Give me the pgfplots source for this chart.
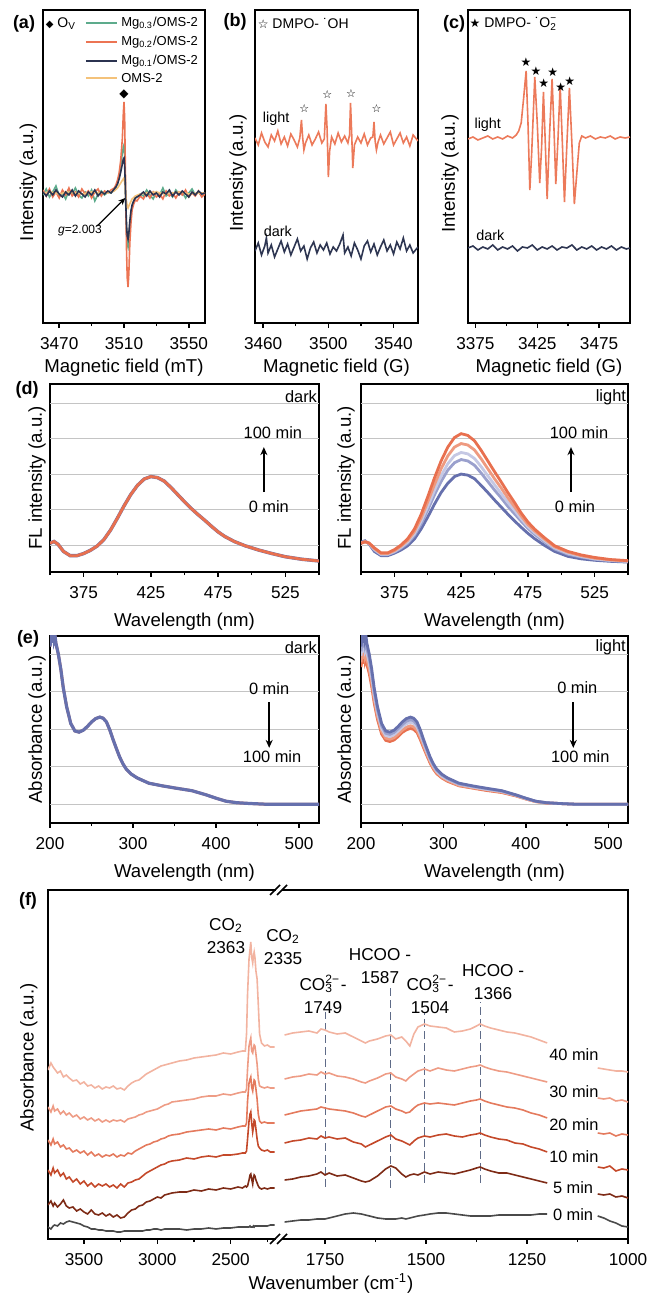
\documentclass[border=0pt]{standalone}
\usepackage{pgfplots}
\pgfplotsset{compat=1.18}
\usepackage{pgfplotstable}
\usepackage{fontspec}
\setmainfont{Liberation Sans}
\newfontfamily\dejavu{DejaVu Sans}
\usetikzlibrary{arrows.meta}
\definecolor{cgreen}{HTML}{5DAB8C}
\definecolor{corange}{HTML}{EC7453}
\definecolor{cnavy}{HTML}{2B3350}
\definecolor{cyellow}{HTML}{F4C27A}
\definecolor{clight}{HTML}{EC7A5A}
\definecolor{cdark}{HTML}{2E3652}
\definecolor{dblue}{HTML}{6670AD}
\definecolor{dmid}{HTML}{9AA0CD}
\definecolor{dpale}{HTML}{C5C8E4}
\definecolor{dsalmon}{HTML}{EE9A80}
\definecolor{dorange}{HTML}{E8704F}
\definecolor{f40}{HTML}{F2B3A0}
\definecolor{f30}{HTML}{EE9C85}
\definecolor{f20}{HTML}{E47A5D}
\definecolor{f10}{HTML}{C4492A}
\definecolor{f5}{HTML}{7E2B16}
\definecolor{f0}{HTML}{4A4A4A}
\definecolor{fdash}{HTML}{5F6B88}
\definecolor{gridc}{HTML}{C4C4C4}
\newcommand\fsTick{\fontsize{8.6}{10}\selectfont}
\newcommand\fsLab{\fontsize{9.3}{11}\selectfont}
\newcommand\fsAnn{\fontsize{8.2}{10}\selectfont}
\newcommand\fsSm{\fontsize{7.2}{8.5}\selectfont}
\newcommand\fsLeg{\fontsize{6.5}{7.5}\selectfont}
\newcommand\fsF{\fontsize{8.6}{11.2}\selectfont}
\newcommand\fsP{\bfseries\fontsize{9}{10}\selectfont}
\tikzset{
 lwa/.style={line width=0.8pt},
 lwb/.style={line width=1.4pt},
 farr/.style={line width=0.8pt,-{Stealth[length=4pt,width=3.5pt]}},
 fdl/.style={fdash,line width=0.6pt,dash pattern=on 4pt off 2pt},
 legt/.style={font=\fsLeg,anchor=west,inner sep=0pt},
}
\pgfplotsset{
 base/.style={scale only axis, anchor=south west,
  axis line style={line width=0.9pt},
  tick style={black, line width=0.7pt},
  tick align=outside, major tick length=2.5pt, minor tick length=1.6pt,
  xtick pos=left, ytick=\empty, minor x tick num=1,
  tick label style={font=\fsTick},
  xticklabel style={yshift=-1.2pt},
  xlabel style={font=\fsLab}, ylabel style={font=\fsLab},
  /pgf/number format/assume math mode=true,
  /pgf/number format/1000 sep={},
  clip mode=individual},
}
\begin{document}
\pgfplotstableread{
w c1 c2 c3 c4 c5
350 1.08 1.06 1.06 1.05 1.05
353 1.12 1.10 1.10 1.09 1.09
356 1.03 1.04 1.05 1.05 1.06
360 0.82 0.86 0.88 0.90 0.92
365 0.70 0.73 0.74 0.76 0.78
370 0.70 0.73 0.74 0.76 0.78
375 0.77 0.80 0.82 0.84 0.87
380 0.86 0.91 0.94 0.97 1.00
385 0.98 1.05 1.09 1.13 1.18
390 1.17 1.27 1.32 1.38 1.45
395 1.45 1.59 1.67 1.76 1.86
400 1.79 1.99 2.09 2.22 2.36
405 2.15 2.41 2.54 2.70 2.89
410 2.48 2.79 2.95 3.15 3.37
415 2.74 3.11 3.29 3.51 3.76
420 2.93 3.32 3.52 3.76 4.03
425 3.00 3.41 3.61 3.86 4.14
430 2.97 3.37 3.57 3.82 4.09
435 2.87 3.25 3.44 3.68 3.94
440 2.68 3.03 3.21 3.43 3.67
445 2.48 2.79 2.95 3.15 3.37
450 2.27 2.55 2.70 2.87 3.07
455 2.07 2.33 2.45 2.61 2.78
460 1.87 2.09 2.20 2.33 2.48
465 1.68 1.88 1.98 2.08 2.20
470 1.50 1.67 1.74 1.82 1.90
475 1.33 1.47 1.52 1.58 1.65
480 1.18 1.30 1.35 1.40 1.45
487 1.00 1.10 1.14 1.18 1.22
495 0.82 0.89 0.92 0.95 0.98
505 0.68 0.74 0.77 0.80 0.82
515 0.61 0.66 0.68 0.70 0.72
525 0.57 0.60 0.61 0.63 0.65
537 0.54 0.56 0.57 0.58 0.59
550 0.52 0.53 0.54 0.55 0.56
}\fltab
\pgfplotstableread{
w d
350 1.05
353 1.10
356 1.02
360 0.82
365 0.70
370 0.70
375 0.76
380 0.85
385 0.97
390 1.15
395 1.42
400 1.75
405 2.10
410 2.42
415 2.68
420 2.86
425 2.93
430 2.90
435 2.80
440 2.62
445 2.42
450 2.22
455 2.03
460 1.86
465 1.70
470 1.53
475 1.37
480 1.24
487 1.10
495 0.98
505 0.86
515 0.76
525 0.67
537 0.60
550 0.55
}\fldark
\pgfplotstableread{
w c1 c2 c3 c4 c5
200 5.20 5.07 4.95 4.78 4.65
202 5.60 5.46 5.32 5.14 5.00
203 5.30 5.17 5.04 4.87 4.74
204 5.70 5.56 5.42 5.23 5.09
205 5.40 5.27 5.14 4.96 4.83
206 5.50 5.37 5.23 5.05 4.92
207 5.30 5.17 5.04 4.87 4.74
208 5.20 5.07 4.95 4.78 4.65
210 5.00 4.88 4.76 4.60 4.48
213 4.60 4.49 4.38 4.24 4.13
216 4.10 4.01 3.91 3.79 3.70
220 3.60 3.52 3.44 3.34 3.26
225 3.15 3.09 3.02 2.94 2.87
230 2.95 2.89 2.83 2.76 2.70
235 2.92 2.86 2.80 2.73 2.67
240 2.97 2.91 2.85 2.77 2.71
245 3.07 3.01 2.95 2.86 2.80
250 3.19 3.12 3.06 2.97 2.91
255 3.28 3.21 3.14 3.05 2.98
260 3.32 3.25 3.18 3.09 3.02
264 3.29 3.22 3.15 3.06 2.99
268 3.19 3.12 3.06 2.97 2.91
272 2.98 2.92 2.86 2.78 2.72
276 2.72 2.67 2.62 2.55 2.50
280 2.48 2.44 2.39 2.33 2.29
284 2.25 2.21 2.18 2.13 2.09
288 2.07 2.04 2.01 1.96 1.93
292 1.93 1.90 1.87 1.84 1.81
298 1.80 1.78 1.75 1.72 1.70
305 1.70 1.68 1.66 1.63 1.61
319 1.56 1.54 1.53 1.50 1.49
335 1.49 1.48 1.46 1.44 1.43
351 1.43 1.42 1.40 1.39 1.37
371 1.36 1.35 1.34 1.32 1.31
388 1.25 1.24 1.24 1.23 1.22
400 1.16 1.16 1.15 1.14 1.14
412 1.08 1.08 1.08 1.07 1.07
425 1.04 1.04 1.04 1.04 1.03
440 1.02 1.02 1.02 1.02 1.02
460 1.00 1.00 1.00 1.00 1.00
490 1.00 1.00 1.00 1.00 1.00
525 1.00 1.00 1.00 1.00 1.00
}\abtab
\pgfplotstableread{
x t0 t5 t10 t20 t30 t40
3745 1.2 3.4 6.9 9.9 13.2 16.9
3725 1.0 3.8 6.4 9.4 12.7 17.6
3710 1.3 3.3 7.1 10.0 13.3 17.2
3700 1.4 3.6 6.6 9.5 12.8 17.0
3680 1.3 3.2 6.9 9.7 13.0 16.6
3660 1.6 3.5 6.3 9.2 12.5 16.8
3640 1.5 3.9 6.6 9.4 12.8 16.2
3620 1.7 3.3 6.0 9.0 12.4 16.4
3600 1.8 3.1 6.2 9.1 12.6 16.1
3575 1.7 3.2 5.7 8.7 12.2 15.8
3550 1.6 2.8 6.0 8.9 12.4 15.9
3525 1.5 3.0 5.5 8.6 12.0 15.5
3500 1.3 2.7 5.8 8.8 12.2 15.7
3475 1.2 2.5 5.3 8.4 11.9 15.3
3450 1.0 2.9 5.6 8.7 12.1 15.4
3425 1.0 2.5 5.2 8.3 11.8 15.1
3400 0.9 2.4 5.5 8.5 12.0 15.3
3375 0.9 2.6 5.3 8.2 11.7 15.0
3350 0.8 2.3 5.5 8.4 11.9 15.2
3325 0.8 2.5 5.2 8.3 11.7 15.1
3300 0.8 2.2 5.4 8.5 11.9 15.3
3275 0.7 2.4 5.1 8.2 11.8 15.0
3250 0.7 2.1 5.5 8.4 11.9 15.1
3225 0.8 2.2 5.2 8.3 11.7 14.9
3200 0.8 2.6 5.6 8.6 12.0 15.3
3175 0.8 2.9 5.7 8.5 12.1 15.6
3150 0.8 3.0 5.9 8.8 12.2 15.8
3125 0.8 3.3 6.0 9.0 12.4 15.9
3100 0.8 3.4 6.3 9.2 12.5 16.2
3075 0.9 3.7 6.6 9.4 12.7 16.5
3050 0.9 3.8 6.8 9.5 12.8 16.7
3025 1.0 4.0 7.0 9.7 12.9 16.9
3000 1.0 4.2 7.2 9.8 13.0 17.1
2975 0.9 4.1 7.4 10.0 13.2 17.3
2950 1.0 4.4 7.5 10.1 13.4 17.4
2925 1.0 4.5 7.7 10.3 13.5 17.5
2900 1.0 4.6 7.8 10.4 13.7 17.6
2850 1.0 4.7 7.9 10.5 13.8 17.8
2800 0.9 4.7 8.1 10.7 13.9 17.9
2750 1.0 4.9 8.0 10.8 14.0 18.1
2700 1.0 4.8 8.2 10.9 14.2 18.2
2650 1.1 5.0 8.3 11.0 14.3 18.3
2600 1.0 4.9 8.2 10.9 14.3 18.4
2550 1.1 5.1 8.4 11.1 14.5 18.6
2500 1.1 5.0 8.4 11.0 14.4 18.5
2450 1.2 5.2 8.5 11.2 14.6 18.7
2420 1.2 5.1 8.6 11.3 14.7 18.8
2400 1.2 5.3 8.6 11.3 14.7 18.8
2392 1.2 5.2 8.8 11.6 15.0 20.5
2385 1.2 5.3 10.0 13.8 17.0 24.5
2375 1.2 5.9 11.8 15.6 19.3 28.0
2368 1.3 6.4 12.5 16.0 19.8 29.0
2363 1.2 6.5 12.7 16.2 20.1 29.7
2357 1.2 6.0 11.6 15.2 18.8 28.2
2350 1.2 5.5 10.7 14.8 18.6 27.6
2345 1.3 6.1 11.2 15.4 19.1 28.3
2340 1.2 6.4 11.9 15.9 19.4 28.7
2335 1.3 6.3 11.8 15.8 19.3 28.2
2328 1.3 5.9 11.0 15.0 18.5 26.8
2320 1.3 5.6 10.0 14.0 17.5 26.0
2312 1.3 5.3 9.3 12.5 16.0 23.5
2303 1.3 5.1 9.1 11.8 15.3 20.5
2290 1.3 5.0 8.9 11.6 15.2 19.6
2270 1.3 5.1 8.8 11.7 15.1 19.3
2250 1.3 5.0 8.9 11.6 15.2 19.4
2230 1.4 5.1 8.7 11.6 15.1 19.2
2200 1.4 5.1 8.7 11.6 15.1 19.2
}\ftabA
\pgfplotstableread{
x t0 t5 t10 t20 t30 t40
1850 1.7 5.9 9.6 12.4 16.0 20.4
1830 1.8 6.0 9.8 12.6 16.2 20.6
1810 1.9 6.2 9.9 12.8 16.3 20.7
1790 1.9 6.3 10.1 12.9 16.5 20.8
1770 2.0 6.5 10.0 13.0 16.4 20.6
1760 2.0 6.7 10.3 13.2 16.7 21.0
1750 2.0 6.4 10.1 13.1 16.5 20.9
1740 2.1 6.6 10.2 13.0 16.6 20.7
1720 2.3 6.3 10.0 12.9 16.3 20.5
1700 2.5 6.4 10.1 12.8 16.2 20.6
1680 2.6 6.1 9.7 12.6 16.0 20.2
1660 2.5 5.8 9.5 12.3 15.7 19.8
1650 2.4 5.7 9.2 12.2 15.6 19.6
1640 2.3 5.8 9.4 12.4 15.8 19.8
1620 2.1 6.3 9.8 12.8 16.1 20.0
1600 2.0 7.0 10.2 13.2 16.5 20.3
1587 2.0 7.3 10.4 13.3 16.6 20.4
1575 2.0 7.1 10.0 13.0 16.2 20.0
1560 2.1 6.5 9.8 12.8 16.0 20.2
1550 2.0 6.2 9.6 12.6 15.8 19.8
1540 2.1 6.4 9.4 12.7 16.2 19.3
1530 2.2 6.5 9.8 13.1 16.5 20.5
1520 2.3 6.4 10.1 13.4 16.8 21.2
1504 2.4 6.7 10.3 13.6 17.0 21.5
1490 2.5 6.5 10.2 13.5 16.8 21.3
1470 2.6 6.7 10.4 13.6 17.1 21.2
1450 2.6 6.6 10.5 13.5 16.9 21.1
1430 2.5 6.5 10.3 13.4 16.8 20.7
1410 2.4 6.7 10.2 13.6 17.0 20.8
1390 2.3 6.9 10.4 13.8 17.2 21.0
1375 2.3 7.1 10.5 13.9 17.3 21.3
1366 2.3 7.2 10.6 14.0 17.4 21.5
1355 2.3 7.0 10.4 13.8 17.2 21.3
1340 2.3 6.8 10.2 13.6 17.0 21.1
1320 2.4 6.6 10.0 13.4 16.8 20.9
1300 2.4 6.6 9.9 13.2 16.7 20.7
1280 2.4 6.4 9.6 13.1 16.5 20.6
1260 2.4 6.2 9.5 12.9 16.3 20.4
1240 2.4 6.0 9.2 12.6 16.1 20.2
1220 2.5 5.8 9.0 12.4 15.9 19.9
1200 2.5 5.6 8.7 12.1 15.7 19.6
}\ftabB
\pgfplotstableread{
x t0 t5 t10 t20 t30 t40
1075 2.3 4.5 7.2 10.6 14.1 17.1
1060 2.1 4.4 7.1 10.5 14.0 17.0
1045 1.8 4.5 7.3 10.6 14.1 16.9
1030 1.6 4.2 6.8 10.3 13.8 16.8
1015 1.3 4.3 7.0 10.5 13.9 16.8
1000 1.2 4.1 6.9 10.4 13.7 16.7
}\ftabC
\begin{tikzpicture}
\useasboundingbox (0,0) rectangle (324.5pt,647pt);
% ---------------- (a)
\begin{axis}[base, at={(21.5pt,485.5pt)}, width=81pt, height=156.5pt,
 xmin=3460, xmax=3560, ymin=0, ymax=313, xtick={3470,3510,3550},
 xlabel={Magnetic field (mT)}, ylabel={Intensity (a.u.)},
 xlabel style={at={(axis description cs:0.5,-0.143)},anchor=center},
 ylabel style={at={(axis description cs:-0.091,0.45)},anchor=center}]
\addplot[cgreen,lwa] coordinates {(3460,128)(3462,134)(3464,126)(3466,131)(3468,137)(3470,127)(3472,130)(3474,124)(3476,132)(3478,129)(3480,135)(3482,128)(3484,125)(3486,131)(3488,127)(3490,133)(3492,122)(3494,129)(3496,132)(3498,128)(3500,131)(3502,130)(3504,133)(3505,136)(3506,140)(3507,147)(3508,158)(3509,170)(3509.6,176)(3510,178)(3510.4,168)(3510.8,140)(3511.2,110)(3511.6,90)(3512,79)(3512.5,76)(3513,84)(3513.6,98)(3514.3,110)(3515,117)(3516,122)(3517,125)(3518,126)(3520,129)(3522,127)(3524,133)(3526,128)(3528,124)(3530,131)(3532,128)(3534,135)(3536,127)(3538,130)(3540,126)(3542,133)(3544,129)(3546,131)(3548,125)(3550,130)(3552,134)(3554,128)(3556,131)(3558,127)(3560,130)};
\addplot[corange,lwa] coordinates {(3460,133)(3462,127)(3464,134)(3466,126)(3468,131)(3470,125)(3472,133)(3474,128)(3476,135)(3478,127)(3480,131)(3482,126)(3484,134)(3486,129)(3488,132)(3490,125)(3492,131)(3494,134)(3496,127)(3498,132)(3500,130)(3502,133)(3504,135)(3505,138)(3506,143)(3507,150)(3508,163)(3509,185)(3509.6,210)(3510,221)(3510.4,205)(3510.8,160)(3511.2,110)(3511.6,70)(3512,45)(3512.5,36)(3513,50)(3513.6,80)(3514.3,100)(3515,113)(3516,119)(3517,123)(3518,122)(3520,127)(3522,124)(3524,130)(3526,125)(3528,131)(3530,126)(3532,129)(3534,124)(3536,132)(3538,127)(3540,130)(3542,125)(3544,131)(3546,128)(3548,133)(3550,126)(3552,130)(3554,127)(3556,132)(3558,126)(3560,129)};
\addplot[cyellow,lwa] coordinates {(3460,130)(3465,131)(3470,129)(3475,131)(3480,130)(3485,129)(3490,131)(3495,130)(3500,130)(3504,132)(3506,135)(3508,140)(3509.5,144)(3510,145)(3510.6,138)(3511.2,125)(3512,117)(3512.5,115)(3513.5,119)(3515,124)(3517,127)(3520,129)(3525,130)(3530,131)(3535,129)(3540,130)(3545,131)(3550,129)(3555,130)(3560,130)};
\addplot[cnavy,lwa] coordinates {(3460,131)(3462,127)(3464,132)(3466,128)(3468,133)(3470,129)(3472,126)(3474,131)(3476,128)(3478,133)(3480,127)(3482,132)(3484,129)(3486,126)(3488,131)(3490,128)(3492,133)(3494,127)(3496,131)(3498,129)(3500,132)(3502,130)(3504,134)(3505,136)(3506,139)(3507,144)(3508,151)(3509,159)(3509.6,164)(3510,165)(3510.4,158)(3510.8,138)(3511.2,115)(3511.6,97)(3512,87)(3512.5,84)(3513,90)(3513.6,102)(3514.3,112)(3515,118)(3516,122)(3517,125)(3518,126)(3520,128)(3522,131)(3524,127)(3526,132)(3528,128)(3530,130)(3532,126)(3534,131)(3536,129)(3538,133)(3540,127)(3542,131)(3544,128)(3546,132)(3548,129)(3550,126)(3552,131)(3554,128)(3556,132)(3558,129)(3560,130)};
% legend
\draw[cgreen,line width=1pt] (axis description cs:0.265,0.958) -- (axis description cs:0.457,0.958);
\draw[corange,line width=1pt] (axis description cs:0.265,0.898) -- (axis description cs:0.457,0.898);
\draw[cnavy,line width=1pt] (axis description cs:0.265,0.837) -- (axis description cs:0.457,0.837);
\draw[cyellow,line width=1pt] (axis description cs:0.265,0.783) -- (axis description cs:0.457,0.783);
\node[legt] at (axis description cs:0.481,0.958) {Mg\textsubscript{0.3}/OMS-2};
\node[legt] at (axis description cs:0.481,0.898) {Mg\textsubscript{0.2}/OMS-2};
\node[legt] at (axis description cs:0.481,0.837) {Mg\textsubscript{0.1}/OMS-2};
\node[legt] at (axis description cs:0.481,0.783) {OMS-2};
\node[font=\fontsize{7}{8}\selectfont,anchor=west,inner sep=0pt] at (axis cs:3461.5,299) {{\dejavu\fontsize{5}{6}\selectfont ◆} O\textsubscript{V}};
\node[font=\dejavu\fontsize{6}{7}\selectfont] at (axis cs:3510,229) {◆};
\node[font=\fontsize{6}{7}\selectfont] at (axis cs:3482.8,92) {\textit{g}=2.003};
\draw[line width=0.6pt,-{Stealth[length=3.5pt,width=3pt]}] (axis cs:3493.5,97) -- (axis cs:3510.8,125);
\end{axis}
% ---------------- (b)
\begin{axis}[base, at={(127.5pt,485.5pt)}, width=81.5pt, height=156.5pt,
 xmin=3455, xmax=3555, ymin=0, ymax=313, xtick={3460,3500,3540},
 xlabel={Magnetic field (G)}, ylabel={Intensity (a.u.)},
 xlabel style={at={(axis description cs:0.5,-0.143)},anchor=center},
 ylabel style={at={(axis description cs:-0.104,0.48)},anchor=center}]
\addplot[clight,lwa] coordinates {(3455,185)(3457,178)(3459,190)(3461,181)(3463,176)(3465,188)(3467,182)(3469,192)(3471,179)(3473,186)(3475,177)(3477,189)(3479,183)(3481,176)(3482.5,185)(3483.5,203)(3484.2,186)(3485,173)(3486,180)(3488,188)(3490,178)(3492,184)(3494,191)(3496,180)(3497.5,184)(3498.5,219)(3499.2,195)(3500,146)(3500.8,172)(3502,186)(3504,179)(3506,190)(3508,181)(3510,187)(3512,180)(3513,188)(3513.6,220)(3514.3,190)(3515,155)(3516,178)(3518,186)(3520,180)(3522,189)(3524,178)(3526,185)(3527.3,186)(3528,201)(3528.7,182)(3529.5,173)(3530.5,181)(3532,188)(3534,179)(3536,185)(3538,191)(3540,178)(3542,184)(3544,190)(3546,180)(3548,186)(3550,177)(3552,188)(3555,182)};
\addplot[cdark,lwa] coordinates {(3455,72)(3457,80)(3459,68)(3461,77)(3462,85)(3463,70)(3465,78)(3467,66)(3469,74)(3471,82)(3473,71)(3475,79)(3477,68)(3479,76)(3481,84)(3483,72)(3485,77)(3487,64)(3489,75)(3491,81)(3493,70)(3495,78)(3497,73)(3499,80)(3501,69)(3503,76)(3505,72)(3507,79)(3509,88)(3510,70)(3512,76)(3514,67)(3516,80)(3518,73)(3520,64)(3522,77)(3524,82)(3526,71)(3528,79)(3530,68)(3532,76)(3534,83)(3536,72)(3538,78)(3540,69)(3542,81)(3544,74)(3546,85)(3548,72)(3550,78)(3552,70)(3555,76)};
\node[font=\fontsize{7}{8}\selectfont,anchor=west,inner sep=0pt] at (axis cs:3456.5,299) {{\dejavu\fontsize{6}{7}\selectfont ☆} DMPO- ˙OH};
\node[font=\fsSm] at (axis cs:3468,204) {light};
\node[font=\fsSm] at (axis cs:3469,92) {dark};
\node[font=\dejavu\fontsize{5.5}{6}\selectfont] at (axis cs:3485.2,214) {☆};
\node[font=\dejavu\fontsize{5.5}{6}\selectfont] at (axis cs:3499.3,228) {☆};
\node[font=\dejavu\fontsize{5.5}{6}\selectfont] at (axis cs:3514,229) {☆};
\node[font=\dejavu\fontsize{5.5}{6}\selectfont] at (axis cs:3529.5,214) {☆};
\end{axis}
% ---------------- (c)
\begin{axis}[base, at={(234pt,485.5pt)}, width=81pt, height=156.5pt,
 xmin=3369, xmax=3500, ymin=0, ymax=313, xtick={3375,3425,3475},
 xlabel={Magnetic field (G)}, ylabel={Intensity (a.u.)},
 xlabel style={at={(axis description cs:0.5,-0.143)},anchor=center},
 ylabel style={at={(axis description cs:-0.111,0.477)},anchor=center}]
\addplot[clight,lwa] coordinates {(3369,184)(3373,186)(3377,183)(3381,185)(3385,187)(3389,184)(3393,186)(3397,184)(3401,187)(3405,185)(3408,188)(3410,192)(3412,200)(3414,225)(3416,252)(3417.5,200)(3419,133)(3420.5,170)(3423,246)(3425,200)(3427,140)(3428.5,175)(3430,231)(3431.5,180)(3433,124)(3435,190)(3437,244)(3438.5,195)(3440,139)(3441.8,185)(3443.5,238)(3445.3,180)(3447,121)(3449,180)(3451,235)(3453,180)(3455,119)(3457,150)(3459,180)(3461,187)(3464,185)(3468,187)(3472,184)(3476,186)(3480,185)(3484,187)(3488,184)(3492,186)(3496,185)(3500,186)};
\addplot[cdark,lwa] coordinates {(3369,75)(3373,77)(3377,73)(3381,76)(3385,74)(3389,78)(3393,73)(3397,76)(3401,74)(3405,77)(3409,72)(3413,76)(3417,75)(3421,78)(3425,73)(3429,76)(3433,74)(3437,77)(3441,73)(3445,76)(3449,75)(3453,78)(3457,73)(3461,76)(3465,74)(3469,77)(3473,73)(3477,76)(3481,74)(3485,77)(3489,73)(3493,76)(3497,74)(3500,75)};
\node[font=\fontsize{7}{8}\selectfont,anchor=west,inner sep=0pt] at (axis cs:3370,299) {{\dejavu\fontsize{6}{7}\selectfont ★} DMPO- ˙O\rlap{\textsuperscript{−}}\textsubscript{2}};
\node[font=\fsSm] at (axis cs:3385,198) {light};
\node[font=\fsSm] at (axis cs:3387,88) {dark};
\node[font=\dejavu\fontsize{6}{7}\selectfont] at (axis cs:3415.8,261) {★};
\node[font=\dejavu\fontsize{6}{7}\selectfont] at (axis cs:3423.9,252) {★};
\node[font=\dejavu\fontsize{6}{7}\selectfont] at (axis cs:3430.3,240) {★};
\node[font=\dejavu\fontsize{6}{7}\selectfont] at (axis cs:3437.5,251) {★};
\node[font=\dejavu\fontsize{6}{7}\selectfont] at (axis cs:3444,236) {★};
\node[font=\dejavu\fontsize{6}{7}\selectfont] at (axis cs:3451.3,242) {★};
\end{axis}
% ---------------- (d) dark
\begin{axis}[base, at={(25pt,361pt)}, width=134.5pt, height=94pt,
 xmin=350, xmax=550, ymin=0.24, ymax=5.54, xtick={375,425,475,525}, minor xtick={350,400,450,500,550},
 xlabel={Wavelength (nm)}, ylabel={FL intensity (a.u.)},
 xlabel style={at={(axis description cs:0.5,-0.266)},anchor=center},
 ylabel style={at={(axis description cs:-0.048,0.5)},anchor=center}]
\draw[gridc,line width=0.4pt] (axis cs:350,1)--(axis cs:550,1) (axis cs:350,2)--(axis cs:550,2) (axis cs:350,3)--(axis cs:550,3) (axis cs:350,4)--(axis cs:550,4) (axis cs:350,5)--(axis cs:550,5);
\addplot[dblue,line width=1.7pt] table[x=w,y=d] \fldark;
\addplot[dorange,lwb] table[x=w,y=d] \fldark;
\node[font=\fsAnn,anchor=east,inner sep=0.5pt] at (axis cs:549.5,5.17) {dark};
\node[font=\fsAnn] at (axis cs:515.7,4.16) {100 min};
\node[font=\fsAnn] at (axis cs:512.7,2.07) {0 min};
\draw[farr] (axis cs:509,2.49) -- (axis cs:509,3.76);
\end{axis}
% ---------------- (d) light
\begin{axis}[base, at={(180.5pt,361pt)}, width=133.5pt, height=94pt,
 xmin=350, xmax=550, ymin=0.24, ymax=5.54, xtick={375,425,475,525}, minor xtick={350,400,450,500,550},
 xlabel={Wavelength (nm)}, ylabel={FL intensity (a.u.)},
 xlabel style={at={(axis description cs:0.5,-0.266)},anchor=center},
 ylabel style={at={(axis description cs:-0.056,0.5)},anchor=center}]
\draw[gridc,line width=0.4pt] (axis cs:350,1)--(axis cs:550,1) (axis cs:350,2)--(axis cs:550,2) (axis cs:350,3)--(axis cs:550,3) (axis cs:350,4)--(axis cs:550,4) (axis cs:350,5)--(axis cs:550,5);
\addplot[dblue,lwb] table[x=w,y=c1] \fltab;
\addplot[dmid,lwb] table[x=w,y=c2] \fltab;
\addplot[dpale,lwb] table[x=w,y=c3] \fltab;
\addplot[dsalmon,lwb] table[x=w,y=c4] \fltab;
\addplot[dorange,lwb] table[x=w,y=c5] \fltab;
\node[font=\fsAnn,anchor=east,inner sep=0.5pt] at (axis cs:549.5,5.17) {light};
\node[font=\fsAnn] at (axis cs:513.3,4.16) {100 min};
\node[font=\fsAnn] at (axis cs:510.3,2.07) {0 min};
\draw[farr] (axis cs:507.3,2.49) -- (axis cs:507.3,3.76);
\end{axis}
% ---------------- (e) dark
\begin{axis}[base, at={(25pt,235.5pt)}, width=134.5pt, height=93.5pt,
 xmin=200, xmax=524, ymin=0.5, ymax=5.48, xtick={200,300,400,500}, minor xtick={250,350,450},
 xlabel={Wavelength (nm)}, ylabel={Absorbance (a.u.)},
 xlabel style={at={(axis description cs:0.5,-0.267)},anchor=center},
 ylabel style={at={(axis description cs:-0.048,0.5)},anchor=center}]
\draw[gridc,line width=0.4pt] (axis cs:200,1)--(axis cs:524,1) (axis cs:200,2)--(axis cs:524,2) (axis cs:200,3)--(axis cs:524,3) (axis cs:200,4)--(axis cs:524,4) (axis cs:200,5)--(axis cs:524,5);
\addplot[dorange,lwb] table[x=w,y=c1] \abtab;
\addplot[dblue,line width=1.6pt] table[x=w,y=c1] \abtab;
\node[font=\fsAnn,anchor=east,inner sep=0.5pt] at (axis cs:523,5.16) {dark};
\node[font=\fsAnn] at (axis cs:463.9,4.07) {0 min};
\node[font=\fsAnn] at (axis cs:467.5,2.26) {100 min};
\draw[farr] (axis cs:464,3.72) -- (axis cs:464,2.5);
\end{axis}
% ---------------- (e) light
\begin{axis}[base, at={(180.5pt,235.5pt)}, width=133.5pt, height=93.5pt,
 xmin=200, xmax=524, ymin=0.5, ymax=5.48, xtick={200,300,400,500}, minor xtick={250,350,450},
 xlabel={Wavelength (nm)}, ylabel={Absorbance (a.u.)},
 xlabel style={at={(axis description cs:0.5,-0.267)},anchor=center},
 ylabel style={at={(axis description cs:-0.056,0.5)},anchor=center}]
\draw[gridc,line width=0.4pt] (axis cs:200,1)--(axis cs:524,1) (axis cs:200,2)--(axis cs:524,2) (axis cs:200,3)--(axis cs:524,3) (axis cs:200,4)--(axis cs:524,4) (axis cs:200,5)--(axis cs:524,5);
\addplot[dorange,lwb] table[x=w,y=c5] \abtab;
\addplot[dsalmon,lwb] table[x=w,y=c4] \abtab;
\addplot[dpale,lwb] table[x=w,y=c3] \abtab;
\addplot[dmid,lwb] table[x=w,y=c2] \abtab;
\addplot[dblue,lwb] table[x=w,y=c1] \abtab;
\node[font=\fsAnn,anchor=east,inner sep=0.5pt] at (axis cs:523,5.19) {light};
\node[font=\fsAnn] at (axis cs:462.5,4.1) {0 min};
\node[font=\fsAnn] at (axis cs:466.1,2.26) {100 min};
\draw[farr] (axis cs:457.6,3.72) -- (axis cs:457.6,2.5);
\end{axis}
% ---------------- (f) left
\begin{axis}[base, at={(24pt,27.5pt)}, width=113.5pt, height=174.5pt,
 xmin=2198, xmax=3745, x dir=reverse, ymin=0, ymax=34.9,
 xtick={2500,3000,3500}, minor xtick={2250,2750,3250},
 axis line style={draw=none},
 ylabel={Absorbance (a.u.)},
 ylabel style={at={(axis description cs:-0.084,0.52)},anchor=center}]
\draw[line width=0.9pt,line cap=rect] (axis description cs:1,0) -- (axis description cs:0,0) -- (axis description cs:0,1) -- (axis description cs:1,1);
\addplot[f0,lwa] table[x=x,y=t0] \ftabA;
\addplot[f5,lwa] table[x=x,y=t5] \ftabA;
\addplot[f10,lwa] table[x=x,y=t10] \ftabA;
\addplot[f20,lwa] table[x=x,y=t20] \ftabA;
\addplot[f30,lwa] table[x=x,y=t30] \ftabA;
\addplot[f40,lwa] table[x=x,y=t40] \ftabA;
\node[font=\fsF,align=center] at (axis cs:2532,30.3) {CO\textsubscript{2}\\2363};
\node[font=\fsF,align=center] at (axis cs:2143,29.2) {CO\textsubscript{2}\\2335};
\end{axis}
% ---------------- (f) right
\begin{axis}[base, at={(141.5pt,27.5pt)}, width=172.5pt, height=174.5pt,
 xmin=1000, xmax=1854, x dir=reverse, ymin=0, ymax=34.9,
 xtick={1000,1250,1500,1750}, minor xtick={1125,1375,1625},
 axis line style={draw=none},
 xlabel={Wavenumber (cm\textsuperscript{-1})},
 xlabel style={at={(axis description cs:0.139,-0.127)},anchor=center}]
\draw[line width=0.9pt,line cap=rect] (axis description cs:0,0) -- (axis description cs:1,0) -- (axis description cs:1,1) -- (axis description cs:0,1);
\addplot[fdl] coordinates {(1749,5.2)(1749,22.7)};
\addplot[fdl] coordinates {(1587,5.1)(1587,25.4)};
\addplot[fdl] coordinates {(1504,5.6)(1504,22.7)};
\addplot[fdl] coordinates {(1366,5.6)(1366,23.7)};
\addplot[f0,lwa] table[x=x,y=t0] \ftabB;
\addplot[f5,lwa] table[x=x,y=t5] \ftabB;
\addplot[f10,lwa] table[x=x,y=t10] \ftabB;
\addplot[f20,lwa] table[x=x,y=t20] \ftabB;
\addplot[f30,lwa] table[x=x,y=t30] \ftabB;
\addplot[f40,lwa] table[x=x,y=t40] \ftabB;
\addplot[f0,lwa] table[x=x,y=t0] \ftabC;
\addplot[f5,lwa] table[x=x,y=t5] \ftabC;
\addplot[f10,lwa] table[x=x,y=t10] \ftabC;
\addplot[f20,lwa] table[x=x,y=t20] \ftabC;
\addplot[f30,lwa] table[x=x,y=t30] \ftabC;
\addplot[f40,lwa] table[x=x,y=t40] \ftabC;
\node[font=\fsF,align=center] at (axis cs:1755,24.5) {CO\rlap{\textsuperscript{2−}}\textsubscript{3}\hspace{0.45em}-\\1749};
\node[font=\fsF,align=center] at (axis cs:1614,27.3) {HCOO -\\1587};
\node[font=\fsF,align=center] at (axis cs:1490,24.5) {CO\rlap{\textsuperscript{2−}}\textsubscript{3}\hspace{0.45em}-\\1504};
\node[font=\fsF,align=center] at (axis cs:1334,25.7) {HCOO -\\1366};
\node[font=\fsAnn] at (axis cs:1134,18.4) {40 min};
\node[font=\fsAnn] at (axis cs:1134,14.7) {30 min};
\node[font=\fsAnn] at (axis cs:1134,11.4) {20 min};
\node[font=\fsAnn] at (axis cs:1134,8.2) {10 min};
\node[font=\fsAnn] at (axis cs:1136,5.1) {5 min};
\node[font=\fsAnn] at (axis cs:1136,2.4) {0 min};
\end{axis}
% break marks
\draw[line width=0.8pt] (135pt,25pt)--(140pt,30pt) (138.5pt,25pt)--(143.5pt,30pt);
\draw[line width=0.8pt] (135pt,199.5pt)--(140pt,204.5pt) (138.5pt,199.5pt)--(143.5pt,204.5pt);
% panel labels
\node[font=\fsP] at (12pt,635pt) {(a)};
\node[font=\fsP] at (117.5pt,636pt) {(b)};
\node[font=\fsP] at (227pt,635pt) {(c)};
\node[font=\fsP] at (13.5pt,452pt) {(d)};
\node[font=\fsP] at (14pt,327.5pt) {(e)};
\node[font=\fsP] at (14pt,196.5pt) {(f)};
\end{tikzpicture}
\end{document}
